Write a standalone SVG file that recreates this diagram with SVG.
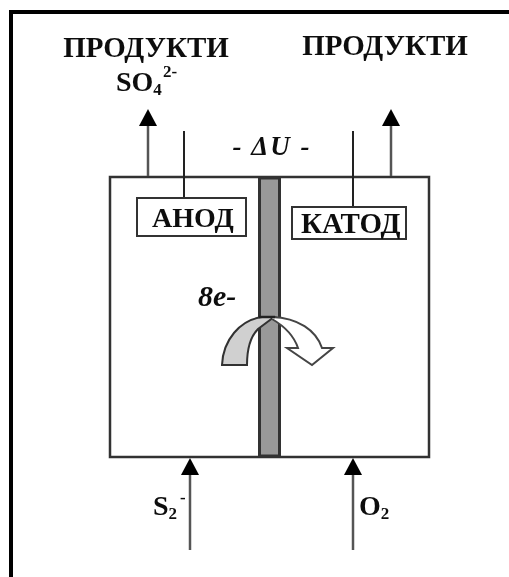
<svg xmlns="http://www.w3.org/2000/svg" width="509" height="577" viewBox="0 0 509 577">
<style>
text{font-family:"Liberation Serif",serif;font-weight:bold;fill:#111}
.l{font-size:29px}
.c{stroke:#555;stroke-width:2.500;fill:none}
.k{stroke:#222;stroke-width:2;fill:none}
.box{fill:#fff;stroke:#333;stroke-width:2}
.h{fill:#000}
.s{font-size:17px}
</style>
<defs><filter id="b" filterUnits="userSpaceOnUse" x="0" y="0" width="509" height="577"><feGaussianBlur stdDeviation="0.5"/></filter></defs>
<rect width="509" height="577" fill="#fff"/>
<g filter="url(#b)">
<path d="M511 12H11V579" fill="none" stroke="#000" stroke-width="4"/>
<g id="cell"><rect x="110" y="177" width="319" height="280" fill="#fff" stroke="#333" stroke-width="2.500"/></g>
<g id="membrane"><rect x="259.500" y="178" width="20" height="278" fill="#999" stroke="#333" stroke-width="3"/></g>
<g id="connectors">
<path class="c" d="M148 176V125"/><path class="h" d="M148 109l9 17h-18z"/>
<path class="c" d="M391 176V125"/><path class="h" d="M391 109l9 17h-18z"/>
<path class="c" d="M190 550V474"/><path class="h" d="M190 458l9 17h-18z"/>
<path class="c" d="M353 550V474"/><path class="h" d="M353 458l9 17h-18z"/>
<path class="k" d="M184 131V198M353 131V207"/>
</g>
<g id="anode"><rect class="box" x="137" y="198" width="109" height="38"/><text x="152" y="227" style="font-size:28px">АНОД</text></g>
<g id="cathode"><rect class="box" x="292" y="207" width="114" height="32"/><text x="301" y="233" style="font-size:29px">КАТОД</text></g>
<g id="products-left"><text class="l" x="146" y="57" text-anchor="middle">ПРОДУКТИ</text><text x="116" y="91" style="font-size:28px">SO<tspan dy="4" class="s">4</tspan></text><text x="163" y="77" class="s">2-</text></g>
<g id="products-right"><text class="l" x="385" y="55" text-anchor="middle">ПРОДУКТИ</text></g>
<g id="voltage"><text x="272" y="155" text-anchor="middle" style="font-size:27px;font-style:italic;letter-spacing:2px">- ΔU -</text></g>
<g id="electrons">
<text x="198" y="306" style="font-size:30px;font-style:italic">8e-</text>
<path d="M222 365C223 340 240 320 262 317H274L258 329C250 337 247 350 247 365Z" fill="#d0d0d0" stroke="#333" stroke-width="2"/>
<path d="M272 317C298 318 316 330 322 348H333L312 365L287 348H298C294 336 284 326 272 319" fill="#fff" stroke="#444" stroke-width="2"/>
<path d="M259 317h16" stroke="#222" stroke-width="2.500"/>
</g>
<g id="inlet-s"><text x="153" y="515" style="font-size:28px">S<tspan dy="4" class="s">2</tspan></text><text x="180" y="503" class="s">-</text></g>
<g id="inlet-o"><text x="359" y="515" style="font-size:28px">O<tspan dy="4" class="s">2</tspan></text></g>
</g>
</svg>
